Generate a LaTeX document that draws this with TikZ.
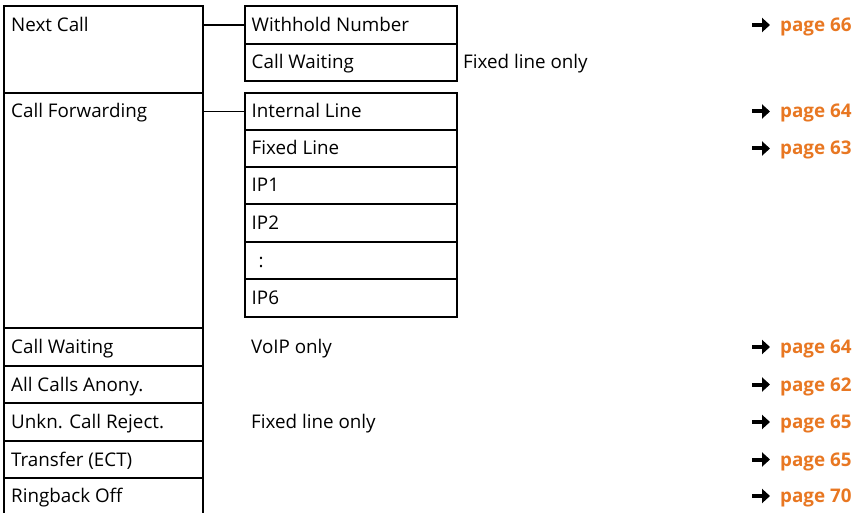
\documentclass[tikz,border=0pt]{standalone}
\usepackage{fontspec}
\setmainfont{Open Sans}
\usetikzlibrary{arrows.meta}
\definecolor{pageorange}{RGB}{232,119,34}
\begin{document}
\begin{tikzpicture}[x=1pt,y=-1pt,
  box/.style={draw,line width=1.1pt,rectangle,inner sep=0pt,outer sep=0pt,anchor=north west},
  mainbox/.style={box,minimum width=199pt},
  subbox/.style={box,minimum width=212pt},
  lbl/.style={anchor=base west,inner sep=0pt,font=\fontsize{18.8}{21}\selectfont},
  pg/.style={anchor=base west,inner sep=0pt,font=\fontsize{18.8}{21}\selectfont\bfseries,text=pageorange},
  parrow/.style={line width=4pt,-{Triangle[length=8pt,width=14pt]}},
  link/.style={line width=1.1pt}]
\useasboundingbox (0,0) rectangle (864,513);
% main column boxes
\node[mainbox,minimum height=87pt] (ncbox) at (4,6) {};
\node[mainbox,minimum height=235pt] (cfbox) at (4,93) {};
\node[mainbox,minimum height=38pt] (cwbox) at (4,328) {};
\node[mainbox,minimum height=37pt] (acbox) at (4,366) {};
\node[mainbox,minimum height=38pt] (ukbox) at (4,403) {};
\node[mainbox,minimum height=37pt] (trbox) at (4,441) {};
\node[mainbox,minimum height=37pt] (rbbox) at (4,478) {};
% sub boxes
\node[subbox,minimum height=38pt] (wnbox) at (245,6) {};
\node[subbox,minimum height=37pt] (cw2box) at (245,44) {};
\node[subbox,minimum height=37pt] (ilbox) at (245,93) {};
\node[subbox,minimum height=37pt] (flbox) at (245,130) {};
\node[subbox,minimum height=37pt] (ipabox) at (245,167) {};
\node[subbox,minimum height=38pt] (ipbbox) at (245,204) {};
\node[subbox,minimum height=37pt] (dotbox) at (245,242) {};
\node[subbox,minimum height=38pt] (ipfbox) at (245,279) {};
% connectors
\draw[link] (ncbox.east |- wnbox.west) -- (wnbox.west);
\draw[link] (cfbox.east |- ilbox.west) -- (ilbox.west);
% main labels
\node[lbl] (nc) at (11,31.5) {Next Call};
\node[lbl] (cf) at (11,118) {Call Forwarding};
\node[lbl] (cw) at (11,353.5) {Call Waiting};
\node[lbl] (ac) at (11,391) {All Calls Anony.};
\node[lbl] (uk) at (11,428.5) {Unkn. Call Reject.};
\node[lbl] (tr) at (11,466) {Transfer (ECT)};
\node[lbl] (rb) at (11,502.5) {Ringback Off};
% sub labels
\node[lbl] (wn) at (251.5,31.5) {Withhold Number};
\node[lbl] (cw2) at (251.5,69) {Call Waiting};
\node[lbl] (il) at (251.5,118) {Internal Line};
\node[lbl] (fl) at (251.5,155) {Fixed Line};
\node[lbl] (ipa) at (251.5,192) {IP1};
\node[lbl] (ipb) at (251.5,229.5) {IP2};
\node[lbl] (dots) at (258.5,267) {:};
\node[lbl] (ipf) at (251.5,304.5) {IP6};
% notes
\node[lbl] (n1) at (463,69) {Fixed line only};
\node[lbl] (n2) at (251,353.5) {VoIP only};
\node[lbl] (n3) at (251,428.5) {Fixed line only};
% page references
\foreach \nm/\yy/\txt in {p1/31.5/66, p2/118/64, p3/155/63, p4/353.5/64, p5/391/62, p6/428.5/65, p7/466/65, p8/502.5/70}{
  \node[pg] (\nm) at (780,\yy) {page \txt};
  \draw[parrow] (752,\yy-6.5) -- (770,\yy-6.5);
}
\end{tikzpicture}
\end{document}
